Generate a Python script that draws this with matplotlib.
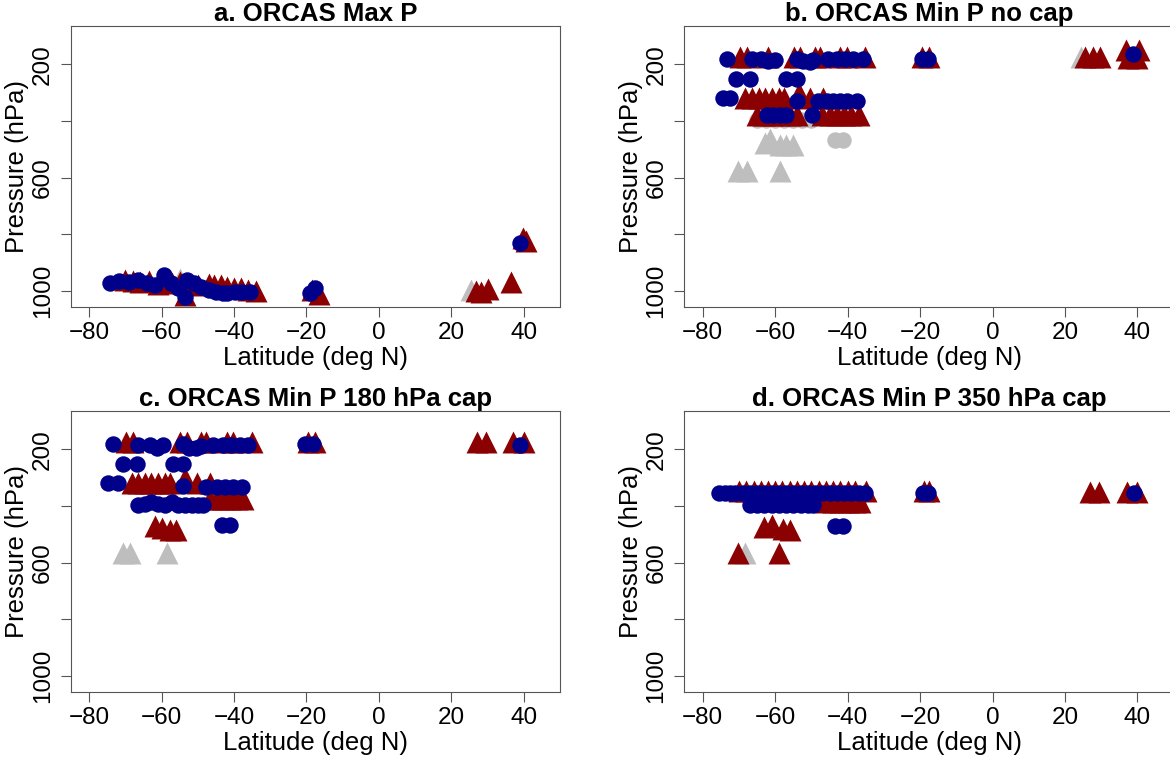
import matplotlib
matplotlib.use('Agg')
import matplotlib.pyplot as plt

plt.rcParams['font.family'] = ['Liberation Sans', 'DejaVu Sans']

GRAY = '#BEBEBE'
RED = '#8B0000'
BLUE = '#00008B'

# ---- panel a: ORCAS Max P
a_gray_tri_lat = [-55, 25.3]
a_gray_tri_p = [958, 995]
a_gray_dot_lat = []
a_gray_dot_p = []
a_red_lat = [-70, -68, -66, -63.5, -61, -57, -55, -53.5, -52, -50, -47, -45.5, -43.5,
             -42, -40, -38, -36, -34, -18.5, -16.5, 26.8, 28.3, 30, 36.5, 39.8, 40.6]
a_red_p = [962, 965, 968, 965, 975, 972, 970, 1015, 975, 980, 975, 978, 980,
           985, 988, 990, 995, 1000, 995, 1010, 1000, 1003, 992, 970, 812, 825]
a_blue_lat = [-74.3, -71.7, -69.1, -66.5, -64, -61.9, -59.3, -57.3, -55.5, -53.6, -53,
              -51.1, -49, -46.9, -44.9, -43, -41.8, -39.7, -37.7, -35.6, -19.1, -17.5, 39]
a_blue_p = [973, 966, 968, 961, 973, 979, 943, 973, 990, 1020, 961,
            973, 985, 996, 1002, 1008, 1008, 1005, 1002, 1002, 1008, 990, 832]

# ---- panel b: Min P no cap
b_gray_tri_lat = [-70.2, -67.9, -58.7, -62.8, -61.5, -58.7, -56.9, -55, 24.5]
b_gray_tri_p = [575, 575, 575, 478, 465, 485, 485, 485, 175]
b_gray_dot_lat = [-65, -62.5, -60, -57.5, -55, -52.5, -50, -43.5, -41.2]
b_gray_dot_p = [395, 397, 397, 397, 397, 397, 395, 467, 467]
b_red_lat = [-69.7, -67.8, -62, -54.9, -53.1, -49, -47.6, -42, -40.2, -35.1,
             -19.5, -17.5, 25.6, 27.6, 29.7, 36.9, 40.5, 37.5, 40,
             -68.3, -66.5, -64.6, -62.8, -60.9, -59.1, -57.7, -53.5, -50.3, -46.7,
             -65, -63, -61, -59, -56, -54, -47, -45, -43, -41, -39, -37]
b_red_p = [173, 173, 173, 173, 173, 173, 173, 173, 173, 173,
           175, 175, 175, 175, 175, 150, 150, 178, 178,
           318, 318, 318, 318, 318, 318, 318, 300, 318, 318,
           380, 380, 380, 380, 380, 380, 380, 380, 380, 380, 380, 380]
b_blue_lat = [-73.4, -66.5, -63.8, -61.9, -60.1, -54.1, -52.3, -50.4, -49.5, -45.4,
              -43, -40.7, -38.4, -35.9, -19.6, -17.7, 38.8,
              -70.7, -67, -56.9, -54.1,
              -74.4, -72.6, -54.1, -48.1, -45.8, -44, -42.1, -40.3, -37.5,
              -62.4, -60.6, -58.7, -56.9, -49.9]
b_blue_p = [180, 180, 182, 190, 184, 180, 190, 192, 185, 182,
            182, 182, 182, 182, 182, 182, 164,
            252, 252, 252, 252,
            320, 320, 330, 329, 329, 329, 329, 329, 329,
            380, 380, 380, 380, 380]

# ---- panel c: Min P 180 hPa cap
c_gray_tri_lat = [-70.6, -68.8, -58.6]
c_gray_tri_p = [567, 567, 567]
c_gray_dot_lat = []
c_gray_dot_p = []
c_red_lat = [-69.7, -67.8, -54.9, -53.1, -49, -47.6, -42, -40.2, -35.1, -19.5, -17.5,
             27, 29.5, 37, 40,
             -68.3, -66.5, -64.6, -62.8, -60.9, -59.1, -57.7, -53.5, -50.3, -46.7,
             -46.7, -44.8, -43, -41.1, -39.3, -37.5,
             -61.8, -60, -57.7, -55.9]
c_red_p = [173, 173, 173, 173, 173, 173, 173, 173, 173, 175, 175,
           175, 175, 175, 175,
           318, 318, 318, 318, 318, 318, 318, 300, 318, 318,
           377, 377, 377, 377, 377, 377,
           470, 478, 485, 485]
c_blue_lat = [-73.5, -66.5, -63.2, -61.2, -59.6, -54, -52.4, -50.5, -49, -45.8,
              -43, -40.7, -38.4, -36.1, -20.4, -18.1, 39,
              -70.6, -66.9, -56.8, -54,
              -74.8, -72, -54, -47.6, -44.8, -42.5, -40.2, -37.9,
              -66.5, -64.6, -62.8, -60.9, -59.1, -57.2, -55.4, -53.6, -51.7, -49.9, -48.5,
              -43.4, -41.1]
c_blue_p = [182, 184, 186, 196, 186, 182, 196, 197, 188, 184,
            184, 184, 184, 184, 183, 183, 185,
            252, 252, 252, 252,
            318, 318, 330, 332, 332, 332, 332, 332,
            397, 392, 385, 392, 397, 385, 397, 397, 397, 397, 395,
            467, 467]

# ---- panel d: Min P 350 hPa cap
d_gray_tri_lat = [-68.3]
d_gray_tri_p = [567]
d_gray_dot_lat = []
d_gray_dot_p = []
d_red_lat = [-70, -68, -66, -64, -62, -60, -58, -56, -54, -52, -50, -48, -46, -44, -42,
             -40, -38, -35, -19, -17.5, 27, 29.5, 37, 40,
             -46, -44, -42, -40, -38, -36.5,
             -63.1, -61, -57.9, -55.9,
             -70.3, -59]
d_red_p = [348, 348, 348, 348, 348, 348, 348, 348, 348, 348, 348, 348, 348, 348, 348,
           348, 348, 348, 348, 348, 350, 350, 350, 350,
           385, 385, 385, 385, 385, 385,
           475, 468, 482, 485,
           567, 567]
d_blue_lat = [-75.5, -74, -72.5, -71, -69, -67, -65, -63, -61, -59, -57, -55, -53, -51,
              -49, -47, -45, -43, -41, -39, -37, -35.3, -19.3, -17.8, 39,
              -67, -65, -63, -61, -59, -57, -55, -53, -51, -49.7,
              -43.5, -41.4]
d_blue_p = [353, 353, 353, 353, 353, 353, 353, 353, 353, 353, 353, 353, 353, 353,
            353, 353, 353, 353, 353, 353, 353, 353, 353, 353, 353,
            397, 397, 397, 397, 397, 397, 397, 397, 397, 397,
            470, 470]

titles = ['a. ORCAS Max P', 'b. ORCAS Min P no cap',
          'c. ORCAS Min P 180 hPa cap', 'd. ORCAS Min P 350 hPa cap']

panels = [
    (a_gray_tri_lat, a_gray_tri_p, a_gray_dot_lat, a_gray_dot_p, a_red_lat, a_red_p, a_blue_lat, a_blue_p),
    (b_gray_tri_lat, b_gray_tri_p, b_gray_dot_lat, b_gray_dot_p, b_red_lat, b_red_p, b_blue_lat, b_blue_p),
    (c_gray_tri_lat, c_gray_tri_p, c_gray_dot_lat, c_gray_dot_p, c_red_lat, c_red_p, c_blue_lat, c_blue_p),
    (d_gray_tri_lat, d_gray_tri_p, d_gray_dot_lat, d_gray_dot_p, d_red_lat, d_red_p, d_blue_lat, d_blue_p),
]

# right-hand panels run past the figure edge, as in the original
positions = [
    [0.0604, 0.5962, 0.4182, 0.3700],
    [0.5849, 0.5962, 0.4260, 0.3700],
    [0.0604, 0.0903, 0.4182, 0.3700],
    [0.5849, 0.0903, 0.4260, 0.3700],
]
xlims = [(-85.1, 50), (-85.1, 52.5), (-85.1, 50), (-85.1, 52.5)]

fig = plt.figure(figsize=(11.7, 7.61), dpi=100)

for pos, xl, title, data in zip(positions, xlims, titles, panels):
    gtl, gtp, gdl, gdp, rl, rp, bl, bp = data
    ax = fig.add_axes(pos)
    ax.scatter(gtl, gtp, marker='^', s=250, color=GRAY, linewidths=0)
    ax.scatter(gdl, gdp, marker='o', s=140, color=GRAY, linewidths=0)
    ax.scatter(rl, rp, marker='^', s=250, color=RED, linewidths=0)
    ax.scatter(bl, bp, marker='o', s=140, color=BLUE, linewidths=0)

    ax.set_xlim(*xl)
    ax.set_ylim(1057.5, 64)
    ax.set_xticks([-80, -60, -40, -20, 0, 20, 40])
    ax.set_yticks([200, 400, 600, 800, 1000])
    ax.set_yticklabels(['200', '', '600', '', '1000'], rotation=90, va='center')
    ax.tick_params(axis='both', direction='out', length=7.2, width=0.8,
                   color='#555555', labelsize=17.5, pad=3.5)
    ax.tick_params(axis='y', pad=5)
    for sp in ax.spines.values():
        sp.set_color('#555555')
        sp.set_linewidth(0.8)
    # labels and title centred on the full (uncropped) box
    xc = (50 + 85.1) / 2 / (xl[1] - xl[0])
    ax.set_xlabel('Latitude (deg N)', fontsize=18.5, labelpad=1, x=xc)
    ax.set_ylabel('Pressure (hPa)', fontsize=18.5, labelpad=2)
    ax.set_title(title, fontsize=18.5, fontweight='bold', pad=1, x=xc)

fig.savefig('out.png', dpi=100)
